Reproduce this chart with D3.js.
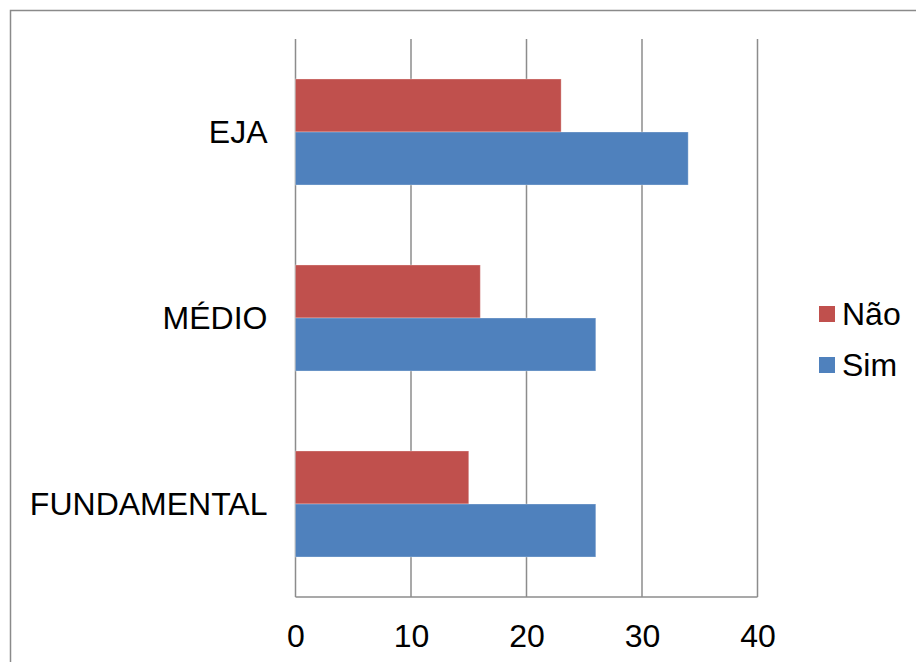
<!DOCTYPE html>
<html>
<head>
<meta charset="utf-8">
<script src="https://cdn.jsdelivr.net/npm/d3@7"></script>
<style>
  html, body { margin: 0; padding: 0; background: #fff; }
  svg { display: block; font-family: "Liberation Sans", Arial, sans-serif; }
</style>
</head>
<body>
<svg id="chart" width="916" height="662"></svg>
<script>
// Responses per school level
const categories = ["EJA", "MÉDIO", "FUNDAMENTAL"];
const seriesNames = ["Não", "Sim"];
const naoValues = [23, 16, 15];
const simValues = [34, 26, 26];
const xTicks = [0, 10, 20, 30, 40];
const colors = { "Não": "#C0504D", "Sim": "#4F81BD" };

const rows = categories.map((c, i) => ({ cat: c, "Não": naoValues[i], "Sim": simValues[i] }));

const svg = d3.select("#chart");
const W = 916, H = 662;
const plot = { left: 295.5, right: 757.5, top: 39, bottom: 597 };
const FONT = 32;

// outer frame
svg.append("rect")
  .attr("x", 10.5).attr("y", 10.5)
  .attr("width", W + 20).attr("height", H + 20)
  .attr("fill", "#fff").attr("stroke", "#8a8a8a").attr("stroke-width", 1.5);

const x = d3.scaleLinear().domain([0, 40]).range([plot.left, plot.right]);
const y = d3.scaleBand().domain(categories).range([plot.top, plot.bottom]).paddingInner(0.43).paddingOuter(0.215);
const ySub = d3.scaleBand().domain(seriesNames).range([0, y.bandwidth()]);

// vertical gridlines
svg.append("g").selectAll("line").data(xTicks).join("line")
  .attr("x1", d => x(d)).attr("x2", d => x(d))
  .attr("y1", plot.top).attr("y2", plot.bottom)
  .attr("stroke", "#8c8c8c").attr("stroke-width", 1.5);

// bars
const groups = svg.append("g").selectAll("g").data(rows).join("g")
  .attr("transform", d => `translate(0,${y(d.cat)})`);
groups.selectAll("rect").data(d => seriesNames.map(s => ({ s, v: d[s] }))).join("rect")
  .attr("x", x(0))
  .attr("y", d => ySub(d.s))
  .attr("width", d => x(d.v) - x(0))
  .attr("height", ySub.bandwidth())
  .attr("fill", d => colors[d.s])
  .attr("stroke", "rgba(255,255,255,0.3)")
  .attr("stroke-width", 1);

// bottom axis line
svg.append("line")
  .attr("x1", plot.left).attr("x2", plot.right)
  .attr("y1", plot.bottom).attr("y2", plot.bottom)
  .attr("stroke", "#8c8c8c").attr("stroke-width", 1.5);

// x tick labels
const xAxis = d3.axisBottom(x).tickValues(xTicks).tickSize(0).tickPadding(0);
const gx = svg.append("g").attr("transform", `translate(0,${plot.bottom})`).call(xAxis);
gx.select(".domain").remove();
gx.selectAll("text")
  .attr("dy", null).attr("y", 50)
  .attr("font-size", FONT).attr("font-family", "Liberation Sans, Arial, sans-serif")
  .attr("fill", "#000");

// category labels
const yAxis = d3.axisLeft(y).tickSize(0).tickPadding(28);
const gy = svg.append("g").attr("transform", `translate(${plot.left},0)`).call(yAxis);
gy.select(".domain").remove();
gy.selectAll("text")
  .attr("dy", "0.35em")
  .attr("font-size", FONT).attr("font-family", "Liberation Sans, Arial, sans-serif")
  .attr("fill", "#000");

// legend
const legend = svg.append("g").attr("transform", "translate(819,306)");
const li = legend.selectAll("g").data(seriesNames).join("g")
  .attr("transform", (d, i) => `translate(0,${i * 51})`);
li.append("rect").attr("width", 16).attr("height", 16).attr("fill", d => colors[d]);
li.append("text").attr("x", 23).attr("y", 8).attr("dy", "0.35em")
  .attr("font-size", FONT).attr("fill", "#000").text(d => d);
</script>
</body>
</html>
